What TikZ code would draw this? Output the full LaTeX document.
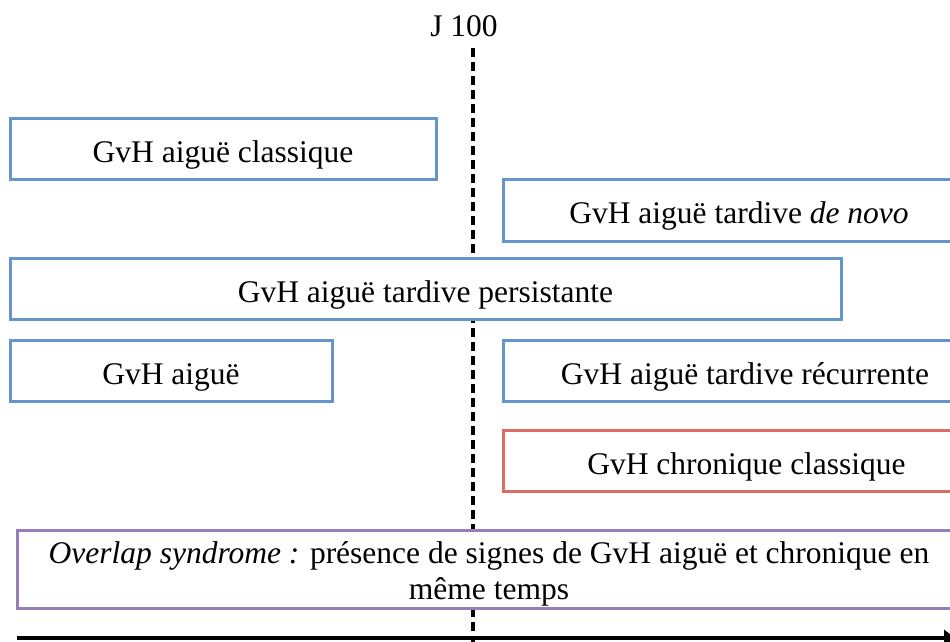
\documentclass[tikz,border=0pt]{standalone}
\usepackage{fontspec}
\setmainfont{Liberation Serif}
\usetikzlibrary{arrows.meta}
\definecolor{boxblue}{RGB}{100,150,205}
\definecolor{boxred}{RGB}{217,108,102}
\definecolor{boxpurple}{RGB}{152,126,184}
\tikzset{
  gbox/.style={draw=boxblue, line width=3pt, inner sep=0pt, text height=27pt, text depth=0pt, fill=white},
  rbox/.style={gbox, draw=boxred},
  pbox/.style={draw=boxpurple, line width=3pt, inner sep=0pt, fill=white},
  axisline/.style={line width=3.5pt, -{Latex[length=14pt,width=18pt]}},
  jline/.style={line width=3.5pt, dash pattern=on 9pt off 5pt},
}
\begin{document}
\begin{tikzpicture}[x=1pt,y=-1pt,font=\fontsize{31.5}{35}\selectfont]
\useasboundingbox (0,0) rectangle (950,641);
\clip (0,0) rectangle (950,641);
\node[anchor=base] (j100) at (464,36) {J 100};
\coordinate (dtop) at (473,48);
\coordinate (dbot) at (473,660);
\draw[jline] (dtop) -- (dbot);
\node[gbox, minimum width=426pt, minimum height=61pt] (b1) at (223,148.5) {GvH aiguë classique};
\node[gbox, minimum width=472pt, minimum height=62pt] (b2) at (739,210) {GvH aiguë tardive \textit{de novo}};
\node[gbox, minimum width=831pt, minimum height=61pt] (b3) at (425.5,288.5) {GvH aiguë tardive persistante};
\node[gbox, minimum width=322pt, minimum height=61pt] (b4) at (171,370.5) {GvH aiguë};
\node[gbox, minimum width=484pt, minimum height=61pt] (b5) at (745,370.5) {GvH aiguë tardive récurrente};
\node[rbox, minimum width=487pt, minimum height=61pt] (b6) at (746.5,460.5) {GvH chronique classique};
\node[pbox, minimum width=944pt, minimum height=78pt] (b7) at (489,569) {};
\node[align=center, inner sep=0pt, font=\fontsize{31.5}{36}\selectfont] (b7text) at (489,574) {\textit{Overlap syndrome :} présence de signes de GvH aiguë et chronique en\\même temps};
\coordinate (a0) at (17,638);
\coordinate (a1) at (958,638);
\draw[axisline] (a0) -- (a1);
\end{tikzpicture}
\end{document}
